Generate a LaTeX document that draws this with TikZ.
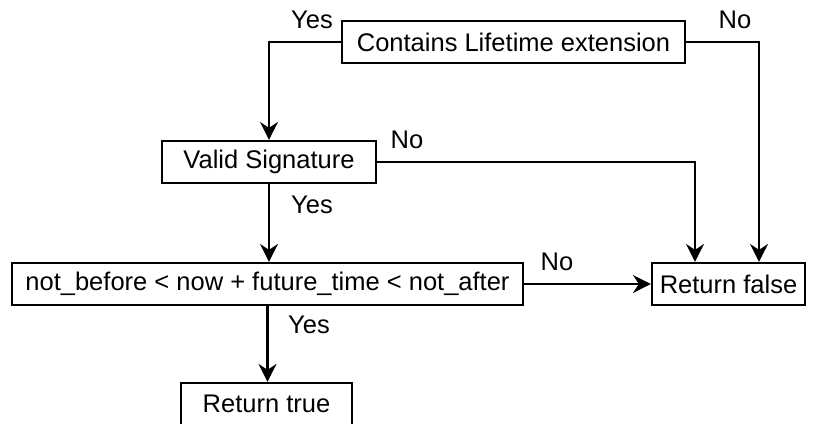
\documentclass[tikz,border=0pt]{standalone}
\usepackage{fontspec}
\setmainfont{Liberation Sans}
\usetikzlibrary{arrows.meta}
\begin{document}
\begin{tikzpicture}[x=1pt,y=-1pt,
  box/.style={draw, line width=2.2pt, minimum height=42pt, inner sep=0pt,
    font=\fontsize{25.5}{30}\selectfont},
  flow/.style={line width=2.2pt, -{Stealth[length=18pt,width=18pt,inset=6pt]}},
  lbl/.style={font=\fontsize{25.5}{30}\selectfont, inner sep=0pt}]
\useasboundingbox (0,0) rectangle (818,423);
\clip (0,0) rectangle (818,423);

% decision and result boxes
\node[box, minimum width=343pt] (ext) at (513.5,42) {Contains Lifetime extension};
\node[box, minimum width=214pt] (sig) at (269,162) {Valid Signature};
\node[box, minimum width=511pt] (win) at (267.5,284) {not\_before < now + future\_time < not\_after};
\node[box, minimum width=153pt] (false) at (728.5,284) {Return false};
\node[box, minimum width=171pt] (true) at (266.5,404) {Return true};

% x positions of the two drops into "Return false"
\coordinate (dropA) at (695,0);
\coordinate (dropB) at (759,0);

% connectors
\draw[flow] (ext.west) -| (sig.north);
\draw[flow] (ext.east) -| (false.north -| dropB);
\draw[flow] (sig.east) -| (false.north -| dropA);
\draw[flow] (sig.south) -- (sig.south |- win.north);
\draw[flow] (win.east) -- (false.west);
\draw[flow] (win.south) -- (win.south |- true.north);

% branch labels
\node[lbl] (yes1) at (312,20) {Yes};
\node[lbl] (no1) at (735,20) {No};
\node[lbl] (no2) at (407,140) {No};
\node[lbl] (yes2) at (312,205) {Yes};
\node[lbl] (no3) at (557,262) {No};
\node[lbl] (yes3) at (309,325) {Yes};
\end{tikzpicture}
\end{document}
